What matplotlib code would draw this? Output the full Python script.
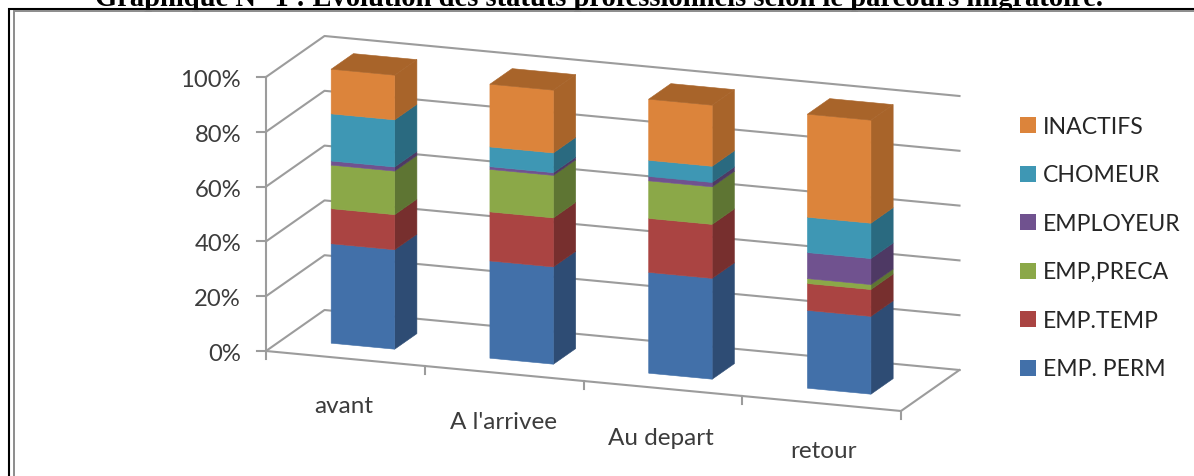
import matplotlib
matplotlib.use("Agg")
import matplotlib.pyplot as plt
from matplotlib.patches import Polygon, Rectangle

categories = ["avant", "A l'arrivee", "Au depart", "retour"]
series_names = ["EMP. PERM", "EMP.TEMP", "EMP,PRECA", "EMPLOYEUR", "CHOMEUR", "INACTIFS"]
emp_perm = [36.3, 35.5, 36.8, 28.4]
emp_temp = [12.8, 17.9, 19.7, 9.8]
emp_preca = [15.9, 15.5, 13.7, 1.8]
employeur = [1.5, 1.0, 1.6, 9.5]
chomeur = [17.2, 7.2, 5.9, 12.9]
inactifs = [16.3, 22.9, 22.3, 37.6]
series = [emp_perm, emp_temp, emp_preca, employeur, chomeur, inactifs]
yticks = [0, 20, 40, 60, 80, 100]

front = ["#4270a9", "#aa4442", "#8ba848", "#70528f", "#3e97b4", "#dc843b"]
side = ["#2e4c74", "#772f2e", "#5e7533", "#4e3964", "#2a6a80", "#a8642a"]
grid = "#9c9c9c"
txt = "#3c3c3c"
plt.rcParams["font.family"] = ["Lato", "DejaVu Sans"]


# oblique projection of the chart box: c = category slot, d = depth 0-1, v = percent
def proj(c, d, v):
    x = 266 + 158.75 * c + 58.5 * d
    y = 352 + 15 * c - 41 * d - 2.74 * v
    return x, y


fig = plt.figure(figsize=(11.94, 4.77), dpi=100)
ax = fig.add_axes([0, 0, 1, 1])
ax.set_xlim(0, 1194)
ax.set_ylim(477, 0)
ax.axis("off")

# walls
for v in yticks:
    ax.plot(*zip(proj(0, 0, v), proj(0, 1, v), proj(4, 1, v)), color=grid, lw=1.5, zorder=1)
    x, y = proj(0, 0, v)
    ax.plot([x - 9, x], [y, y], color=grid, lw=1.5, zorder=1)
    ax.text(241, y + 2.5, "%d%%" % v, ha="right", va="center", fontsize=17.2, color=txt)

ax.plot(*zip(proj(0, 0, 100), proj(0, 0, -3)), color=grid, lw=1.5, zorder=1)
ax.plot(*zip(proj(0, 0, 0), proj(4, 0, 0), proj(4, 1, 0)), color=grid, lw=1.5, zorder=1)
for c in range(1, 5):
    x, y = proj(c, 0, 0)
    ax.plot([x, x], [y, y + 8], color=grid, lw=1.5, zorder=1)

# bars, front to top in stack order
c_half = 0.2
d0, d1 = 0.30, 0.68
for i in range(len(categories)):
    bottom = 0
    cl = i + 0.5 - c_half
    cr = i + 0.5 + c_half
    for vals, fc, sc in zip(series, front, side):
        top = bottom + vals[i]
        ax.add_patch(Polygon([proj(cr, d0, bottom), proj(cr, d1, bottom), proj(cr, d1, top), proj(cr, d0, top)],
                             fc=sc, ec=sc, lw=0.4, zorder=3))
        ax.add_patch(Polygon([proj(cl, d0, bottom), proj(cr, d0, bottom), proj(cr, d0, top), proj(cl, d0, top)],
                             fc=fc, ec=fc, lw=0.4, zorder=4))
        bottom = top
    ax.add_patch(Polygon([proj(cl, d0, bottom), proj(cr, d0, bottom), proj(cr, d1, bottom), proj(cl, d1, bottom)],
                         fc=side[-1], ec=side[-1], lw=0.4, zorder=4))

label_x = [344, 503, 661, 823]
label_y = [407, 423, 439, 452]
for name, lx, ly in zip(categories, label_x, label_y):
    ax.text(lx, ly, name, ha="center", va="center", fontsize=17.5, color=txt)

# legend
for k, (name, fc) in enumerate(zip(series_names, front)):
    ly = 369 - k * 48.6
    ax.add_patch(Rectangle((1020, ly - 8), 16, 16, fc=fc, ec="none"))
    ax.text(1043, ly + 1, name, ha="left", va="center", fontsize=16.6, color="#262626")

# page frame
ax.plot([9, 9, 1194], [477, 10, 10], color="black", lw=1.5, zorder=5, solid_joinstyle="miter")
ax.plot([13.5, 13.5, 1194], [477, 12, 12], color="#8c8c8c", lw=1.4, zorder=5, solid_joinstyle="miter")

ax.text(599, 6.5, "Graphique N° 1 : Evolution des statuts professionnels selon le parcours migratoire.",
        ha="center", va="baseline", fontsize=20.6, fontweight="bold", family="Liberation Serif", color="black")

fig.savefig("out.png", dpi=100)
